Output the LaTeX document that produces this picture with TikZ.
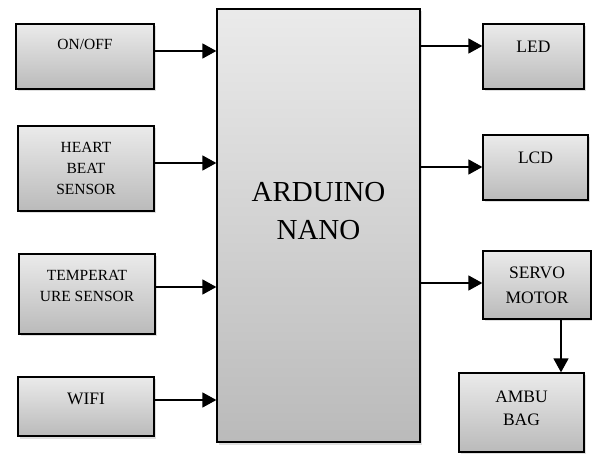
\documentclass[tikz,border=0pt]{standalone}
\usepackage{fontspec}
\setmainfont{Liberation Serif}
\usetikzlibrary{arrows.meta,shadows}

\begin{document}
\begin{tikzpicture}[x=1pt, y=-1pt, >={Triangle[length=14pt,width=15pt]},
  blk/.style={draw, rectangle, line width=1.3pt, inner sep=0pt,
    top color=black!8, bottom color=black!27,
    drop shadow={shadow xshift=1.5pt, shadow yshift=-2.5pt, opacity=0.25}},
  small/.style={align=center, font=\fontsize{15.5}{21}\selectfont},
  mid/.style={align=center, font=\fontsize{17.5}{24}\selectfont},
  big/.style={align=center, font=\fontsize{29}{38}\selectfont},
  arr/.style={->, line width=1.6pt}]

% --- CANVAS ---
\path[use as bounding box, fill=white] (0,0) rectangle (592,454);

% --- INPUT BLOCKS ---
\node[blk, minimum width=138pt, minimum height=65pt] (onoff) at (85,56.5) {};
\node[blk, minimum width=136pt, minimum height=85pt] (heart) at (86,168.5) {};
\node[blk, minimum width=136pt, minimum height=80pt] (temp)  at (87,294) {};
\node[blk, minimum width=136pt, minimum height=59pt] (wifi)  at (86,406.5) {};

% --- CONTROLLER ---
\node[blk, minimum width=203pt, minimum height=433pt] (nano) at (318.5,225.5) {};

% --- OUTPUT BLOCKS ---
\node[blk, minimum width=101pt, minimum height=65pt] (led)   at (533.5,56.5) {};
\node[blk, minimum width=105pt, minimum height=65pt] (lcd)   at (535.5,167.5) {};
\node[blk, minimum width=108pt, minimum height=68pt] (servo) at (537,285) {};
\node[blk, minimum width=125pt, minimum height=79pt] (ambu)  at (521.5,412.5) {};

% --- LABELS ---
\node[small] (onoff-t) at ([yshift=12.5pt]onoff.center) {ON/OFF};
\node[small] (heart-t) at (heart.center) {HEART\\BEAT\\SENSOR};
\node[small] (temp-t)  at ([yshift=8pt]temp.center) {TEMPERAT\\URE SENSOR};
\node[mid]   (wifi-t)  at ([yshift=7.5pt]wifi.center) {WIFI};
\node[big]   (nano-t)  at ([yshift=14.5pt]nano.center) {ARDUINO\\NANO};
\node[mid]   (led-t)   at ([yshift=9.5pt]led.center) {LED};
\node[mid]   (lcd-t)   at ([yshift=9.5pt]lcd.center) {LCD};
\node[mid, font=\fontsize{17.5}{25}\selectfont] (servo-t) at (servo.center) {SERVO\\MOTOR};
\node[mid, font=\fontsize{17.5}{23}\selectfont] (ambu-t)  at ([yshift=4pt]ambu.center) {AMBU\\BAG};

% --- CONNECTIONS ---
\draw[arr] ([yshift=5.5pt]onoff.east) -- ([yshift=5.5pt]onoff.east -| nano.west);
\draw[arr] ([yshift=5.5pt]heart.east) -- ([yshift=5.5pt]heart.east -| nano.west);
\draw[arr] ([yshift=7pt]temp.east) -- ([yshift=7pt]temp.east -| nano.west);
\draw[arr] ([yshift=6.5pt]wifi.east) -- ([yshift=6.5pt]wifi.east -| nano.west);
\draw[arr] ([yshift=10.5pt]led.west -| nano.east) -- ([yshift=10.5pt]led.west);
\draw[arr] ([yshift=0.5pt]lcd.west -| nano.east) -- ([yshift=0.5pt]lcd.west);
\draw[arr] ([yshift=2pt]servo.west -| nano.east) -- ([yshift=2pt]servo.west);
\draw[arr] ([xshift=24pt]servo.south) -- ([xshift=24pt]servo.south |- ambu.north);

\end{tikzpicture}
\end{document}
